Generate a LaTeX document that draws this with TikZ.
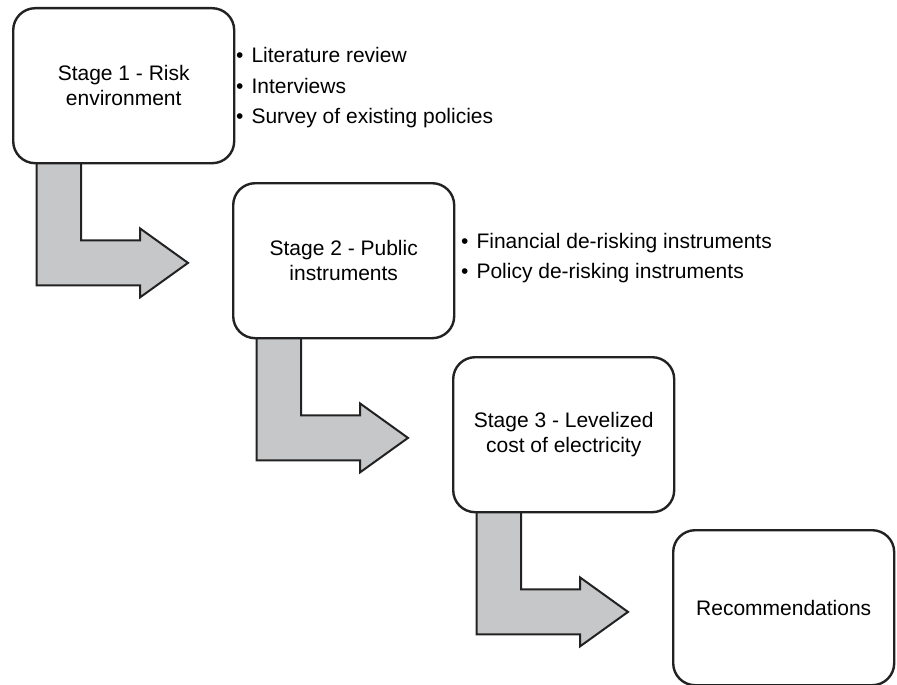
\documentclass[tikz,border=0pt]{standalone}
\usepackage{fontspec}
\setmainfont{Liberation Sans}
\usetikzlibrary{calc,backgrounds}
\definecolor{arrowgray}{HTML}{C6C7C9}
\definecolor{linecol}{HTML}{222222}
\newcommand{\elbowarrow}[1]{%
  \filldraw[elbow] ($(#1.south west)+(24.5,-3)$) -- ($(#1.south west)+(69,-3)$)
    -- ($(#1.south west)+(69,76)$) -- ($(#1.south west)+(128,76)$)
    -- ($(#1.south west)+(128,64)$) -- ($(#1.south west)+(176,98.5)$)
    -- ($(#1.south west)+(128,133)$) -- ($(#1.south west)+(128,121)$)
    -- ($(#1.south west)+(24.5,121)$) -- cycle;}
\begin{document}
\begin{tikzpicture}[x=1pt,y=-1pt,
  stagebox/.style={draw=linecol, line width=2.4pt, rounded corners=22pt, fill=white,
    minimum width=221pt, minimum height=155pt, inner sep=0pt, align=center,
    anchor=north west, font=\fontsize{21}{25}\selectfont},
  elbow/.style={draw=linecol, fill=arrowgray, line width=2pt, line join=miter},
  item/.style={anchor=base west, inner sep=0pt, font=\fontsize{21}{25}\selectfont}]
\useasboundingbox (0,0) rectangle (897,685);
\node[stagebox] (s1) at (12,7) {Stage 1 - Risk\\environment};
\node[stagebox] (s2) at (232,182) {Stage 2 - Public\\instruments};
\node[stagebox] (s3) at (452,356) {Stage 3 - Levelized\\cost of electricity};
\node[stagebox] (s4) at (672,529) {Recommendations};
\begin{scope}[on background layer]
\elbowarrow{s1}
\elbowarrow{s2}
\elbowarrow{s3}
\end{scope}
\node[item] (l1) at (236,63) {•\hspace{8pt}Literature review};
\node[item] (l2) at (236,93) {•\hspace{8pt}Interviews};
\node[item] (l3) at (236,123) {•\hspace{8pt}Survey of existing policies};
\node[item] (p1) at (461,248) {•\hspace{8pt}Financial de-risking instruments};
\node[item] (p2) at (461,278) {•\hspace{8pt}Policy de-risking instruments};
\end{tikzpicture}
\end{document}
